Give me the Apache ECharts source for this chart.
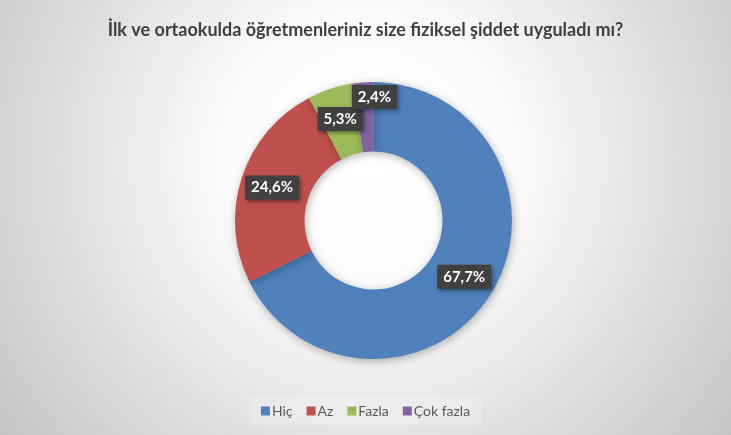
<!DOCTYPE html>
<html>
<head>
<meta charset="utf-8">
<script src="https://cdn.jsdelivr.net/npm/echarts@6/dist/echarts.min.js"></script>
<style>
html,body{margin:0;padding:0;background:#fff;}
#c{position:absolute;left:0;top:0;width:731px;height:435px;}
</style>
</head>
<body>
<div id="c"></div>
<script>
var titleText = "İlk ve ortaokulda öğretmenleriniz size fiziksel şiddet uyguladı mı?";
var categories = ["Hiç", "Az", "Fazla", "Çok fazla"];
var values = [67.7, 24.6, 5.3, 2.4];
var labels = ["67,7%", "24,6%", "5,3%", "2,4%"];
var colors = ["#4F81BD", "#C0504D", "#9BBB59", "#8064A2"];

var chart = echarts.init(document.getElementById('c'), null, {renderer: 'canvas'});
var data = categories.map(function (c, i) {
  return {name: c, value: values[i], itemStyle: {color: colors[i]}};
});
chart.setOption({
  backgroundColor: {
    type: 'radial', x: 368, y: 160, r: 470, global: true,
    colorStops: [
      {offset: 0, color: '#ffffff'},
      {offset: 0.3, color: '#fbfbfb'},
      {offset: 1, color: '#c2c2c2'}
    ]
  },
  title: {
    text: titleText,
    left: 'center',
    top: 16,
    textStyle: {fontFamily: 'Lato', fontWeight: 'bold', fontSize: 18, color: '#404040'}
  },
  legend: {
    bottom: 10,
    left: 'center',
    itemWidth: 9,
    itemHeight: 9,
    itemGap: 14,
    icon: 'rect',
    padding: [7, 12],
    backgroundColor: 'rgba(255,255,255,0.2)',
    textStyle: {fontFamily: 'Lato', fontSize: 14, color: '#595959', padding: [0, 0, 0, -3]},
    data: categories
  },
  series: [{
    type: 'pie',
    center: [373.5, 220.5],
    radius: [69, 138.5],
    startAngle: 90,
    clockwise: true,
    avoidLabelOverlap: false,
    silent: true,
    itemStyle: {
      shadowBlur: 8, shadowColor: 'rgba(0,0,0,0.3)', shadowOffsetX: 1, shadowOffsetY: 2
    },
    label: {
      show: true,
      position: 'inside',
      formatter: function (p) { return labels[p.dataIndex]; },
      fontFamily: 'Lato',
      fontWeight: 'bold',
      fontSize: 15,
      color: '#ffffff',
      backgroundColor: '#404040',
      padding: [5, 6, 4, 6],
      shadowBlur: 4,
      shadowColor: 'rgba(0,0,0,0.4)',
      shadowOffsetX: 2,
      shadowOffsetY: 2
    },
    labelLine: {show: false},
    labelLayout: function (p) {
      if (p.dataIndex === 3) return {dx: 9, dy: -17};
      return {};
    },
    data: data
  }]
});
</script>
</body>
</html>
